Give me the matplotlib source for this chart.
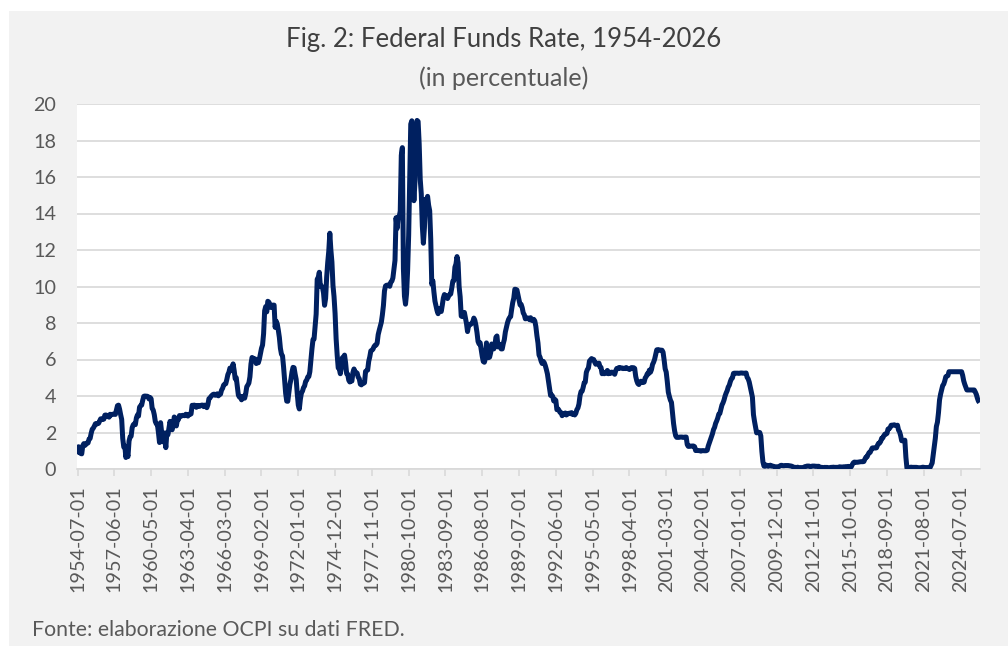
import matplotlib
matplotlib.use("Agg")
import matplotlib.pyplot as plt
import matplotlib.patches as mpatches
import numpy as np
import pandas as pd

# Monthly effective Federal Funds Rate (%), 1954-07 .. 2026-01
rate_1950s = [0.80, 1.22, 1.07, 0.85, 0.83, 1.28,
              1.39, 1.29, 1.35, 1.43, 1.43, 1.64, 1.68, 1.96, 2.18, 2.24, 2.35, 2.48,
              2.45, 2.50, 2.50, 2.62, 2.75, 2.71, 2.75, 2.73, 2.95, 2.96, 2.88, 2.94,
              2.84, 3.00, 2.96, 3.00, 3.00, 3.00, 2.99, 3.24, 3.47, 3.50, 3.28, 2.98,
              2.72, 1.67, 1.20, 1.26, 0.63, 0.93, 0.68, 1.53, 1.76, 1.80, 2.27, 2.42,
              2.48, 2.43, 2.80, 2.96, 2.90, 3.39, 3.47, 3.50, 3.76, 3.98, 4.00, 3.99]
rate_1960s = [3.99, 3.97, 3.84, 3.92, 3.85, 3.32, 3.23, 2.98, 2.60, 2.47, 2.44, 1.98,
              1.45, 2.54, 2.02, 1.49, 1.98, 1.73, 1.17, 2.00, 1.88, 2.26, 2.61, 2.33,
              2.15, 2.37, 2.85, 2.78, 2.36, 2.68, 2.71, 2.93, 2.90, 2.90, 2.94, 2.93,
              2.92, 3.00, 2.98, 2.90, 3.00, 2.99, 3.02, 3.49, 3.48, 3.50, 3.48, 3.38,
              3.48, 3.48, 3.43, 3.47, 3.50, 3.50, 3.42, 3.50, 3.45, 3.36, 3.52, 3.85,
              3.90, 3.98, 4.04, 4.09, 4.10, 4.04, 4.09, 4.12, 4.01, 4.08, 4.10, 4.32,
              4.42, 4.60, 4.65, 4.67, 4.90, 5.17, 5.30, 5.53, 5.40, 5.53, 5.76, 5.40,
              4.94, 5.00, 4.53, 4.05, 3.94, 3.98, 3.79, 3.90, 3.99, 3.88, 4.13, 4.51,
              4.60, 4.71, 5.05, 5.76, 6.11, 6.07, 6.02, 6.03, 5.78, 5.91, 5.82, 6.02,
              6.30, 6.61, 6.79, 7.41, 8.67, 8.90, 8.61, 9.19, 9.15, 9.00, 8.85, 8.97]
rate_1970s = [8.98, 8.98, 7.76, 8.10, 7.95, 7.61, 7.21, 6.61, 6.29, 6.20, 5.60, 4.90,
              4.14, 3.72, 3.71, 4.16, 4.63, 4.91, 5.31, 5.57, 5.55, 5.20, 4.91, 4.14,
              3.50, 3.29, 3.83, 4.17, 4.27, 4.46, 4.55, 4.80, 4.87, 5.04, 5.06, 5.33,
              5.94, 6.58, 7.09, 7.12, 7.84, 8.49, 10.40, 10.50, 10.78, 10.01, 10.03, 9.95,
              9.65, 8.97, 9.35, 10.51, 11.31, 11.93, 12.92, 12.01, 11.34, 10.06, 9.45, 8.53,
              7.13, 6.24, 5.54, 5.49, 5.22, 5.55, 6.10, 6.14, 6.24, 5.82, 5.22, 5.20,
              4.87, 4.77, 4.84, 4.82, 5.29, 5.48, 5.31, 5.29, 5.25, 5.03, 4.95, 4.65,
              4.61, 4.68, 4.69, 4.73, 5.35, 5.39, 5.42, 5.90, 6.14, 6.47, 6.51, 6.56,
              6.70, 6.78, 6.79, 6.89, 7.36, 7.60, 7.81, 8.04, 8.45, 8.96, 9.76, 10.03,
              10.07, 10.06, 10.09, 10.01, 10.24, 10.29, 10.47, 10.94, 11.43, 13.77, 13.18, 13.78]
rate_1980s = [13.82, 14.13, 17.19, 17.61, 10.98, 9.47, 9.03, 9.61, 10.87, 12.81, 15.85, 18.90,
              19.08, 15.93, 14.70, 15.72, 18.52, 19.10, 19.04, 17.82, 15.87, 15.08, 13.31, 12.37,
              13.22, 14.78, 14.68, 14.94, 14.45, 14.15, 12.59, 10.12, 10.31, 9.71, 9.20, 8.95,
              8.68, 8.51, 8.77, 8.80, 8.63, 8.98, 9.37, 9.56, 9.45, 9.48, 9.34, 9.47,
              9.56, 9.59, 9.91, 10.29, 10.32, 11.06, 11.23, 11.64, 11.30, 9.99, 9.43, 8.38,
              8.35, 8.50, 8.58, 8.27, 7.97, 7.53, 7.88, 7.90, 7.92, 7.99, 8.05, 8.27,
              8.14, 7.86, 7.48, 6.99, 6.85, 6.92, 6.56, 6.17, 5.89, 5.85, 6.04, 6.91,
              6.43, 6.10, 6.13, 6.37, 6.85, 6.73, 6.58, 6.73, 7.22, 7.29, 6.69, 6.77,
              6.83, 6.58, 6.58, 6.87, 7.09, 7.51, 7.75, 8.01, 8.19, 8.30, 8.35, 8.76,
              9.12, 9.36, 9.85, 9.84, 9.81, 9.53, 9.24, 8.99, 9.02, 8.84, 8.55, 8.45]
rate_1990s = [8.23, 8.24, 8.28, 8.26, 8.18, 8.29, 8.15, 8.13, 8.20, 8.11, 7.81, 7.31,
              6.91, 6.25, 6.12, 5.91, 5.78, 5.90, 5.82, 5.66, 5.45, 5.21, 4.81, 4.43,
              4.03, 4.06, 3.98, 3.73, 3.82, 3.76, 3.25, 3.30, 3.22, 3.10, 3.09, 2.92,
              3.02, 3.03, 3.07, 2.96, 3.00, 3.04, 3.06, 3.03, 3.09, 2.99, 3.02, 2.96,
              3.05, 3.25, 3.34, 3.56, 4.01, 4.25, 4.26, 4.47, 4.73, 4.76, 5.29, 5.45,
              5.53, 5.92, 5.98, 6.05, 6.01, 6.00, 5.85, 5.74, 5.80, 5.76, 5.80, 5.60,
              5.56, 5.22, 5.31, 5.22, 5.24, 5.27, 5.40, 5.22, 5.30, 5.24, 5.31, 5.29,
              5.25, 5.19, 5.39, 5.51, 5.50, 5.56, 5.52, 5.54, 5.54, 5.50, 5.52, 5.50,
              5.56, 5.51, 5.49, 5.45, 5.49, 5.56, 5.54, 5.55, 5.51, 5.07, 4.83, 4.68,
              4.63, 4.76, 4.81, 4.74, 4.74, 4.76, 4.99, 5.07, 5.22, 5.20, 5.42, 5.30]
rate_2000s = [5.45, 5.73, 5.85, 6.02, 6.27, 6.53, 6.54, 6.50, 6.52, 6.51, 6.51, 6.40,
              5.98, 5.49, 5.31, 4.80, 4.21, 3.97, 3.77, 3.65, 3.07, 2.49, 2.09, 1.82,
              1.73, 1.74, 1.73, 1.75, 1.75, 1.75, 1.73, 1.74, 1.75, 1.75, 1.34, 1.24,
              1.24, 1.26, 1.25, 1.26, 1.26, 1.22, 1.01, 1.03, 1.01, 1.01, 1.00, 0.98,
              1.00, 1.01, 1.00, 1.00, 1.00, 1.03, 1.26, 1.43, 1.61, 1.76, 1.93, 2.16,
              2.28, 2.50, 2.63, 2.79, 3.00, 3.04, 3.26, 3.50, 3.62, 3.78, 4.00, 4.16,
              4.29, 4.49, 4.59, 4.79, 4.94, 4.99, 5.24, 5.25, 5.25, 5.25, 5.25, 5.24,
              5.25, 5.26, 5.26, 5.25, 5.25, 5.25, 5.26, 5.02, 4.94, 4.76, 4.49, 4.24,
              3.94, 2.98, 2.61, 2.28, 1.98, 2.00, 2.01, 2.00, 1.81, 0.97, 0.39, 0.16,
              0.15, 0.22, 0.18, 0.15, 0.18, 0.21, 0.16, 0.16, 0.15, 0.12, 0.12, 0.12]
rate_2010s = [0.11, 0.13, 0.16, 0.20, 0.20, 0.18, 0.18, 0.19, 0.19, 0.19, 0.19, 0.18,
              0.17, 0.16, 0.14, 0.10, 0.09, 0.09, 0.07, 0.10, 0.08, 0.07, 0.08, 0.07,
              0.08, 0.10, 0.13, 0.14, 0.16, 0.16, 0.16, 0.13, 0.14, 0.16, 0.16, 0.16,
              0.14, 0.15, 0.14, 0.15, 0.11, 0.09, 0.09, 0.08, 0.08, 0.09, 0.08, 0.09,
              0.07, 0.07, 0.08, 0.09, 0.09, 0.10, 0.09, 0.09, 0.09, 0.09, 0.09, 0.12,
              0.11, 0.11, 0.11, 0.12, 0.12, 0.13, 0.13, 0.14, 0.14, 0.12, 0.12, 0.24,
              0.34, 0.38, 0.36, 0.37, 0.37, 0.38, 0.39, 0.40, 0.40, 0.40, 0.41, 0.54,
              0.65, 0.66, 0.79, 0.90, 0.91, 1.04, 1.15, 1.16, 1.15, 1.15, 1.16, 1.30,
              1.41, 1.42, 1.51, 1.69, 1.70, 1.82, 1.91, 1.91, 1.95, 2.19, 2.20, 2.27,
              2.40, 2.40, 2.41, 2.42, 2.39, 2.38, 2.40, 2.13, 2.04, 1.83, 1.55, 1.55]
rate_2020s = [1.55, 1.58, 0.65, 0.05, 0.05, 0.08, 0.09, 0.10, 0.09, 0.09, 0.09, 0.09,
              0.09, 0.08, 0.07, 0.07, 0.06, 0.08, 0.10, 0.09, 0.08, 0.08, 0.08, 0.08,
              0.08, 0.08, 0.20, 0.33, 0.77, 1.21, 1.68, 2.33, 2.56, 3.08, 3.78, 4.10,
              4.33, 4.57, 4.65, 4.83, 5.06, 5.08, 5.12, 5.33, 5.33, 5.33, 5.33, 5.33,
              5.33, 5.33, 5.33, 5.33, 5.33, 5.33, 5.33, 5.33, 5.13, 4.83, 4.64, 4.48,
              4.33, 4.33, 4.33, 4.33, 4.33, 4.33, 4.33, 4.33, 4.22, 4.09, 3.88, 3.72,
              3.64]

tick_labels = ["1954-07-01", "1957-06-01", "1960-05-01", "1963-04-01", "1966-03-01",
               "1969-02-01", "1972-01-01", "1974-12-01", "1977-11-01", "1980-10-01",
               "1983-09-01", "1986-08-01", "1989-07-01", "1992-06-01", "1995-05-01",
               "1998-04-01", "2001-03-01", "2004-02-01", "2007-01-01", "2009-12-01",
               "2012-11-01", "2015-10-01", "2018-09-01", "2021-08-01", "2024-07-01"]

values = (rate_1950s + rate_1960s + rate_1970s + rate_1980s + rate_1990s
          + rate_2000s + rate_2010s + rate_2020s)
dates = pd.date_range("1954-07-01", periods=len(values), freq="MS").strftime("%Y-%m-%d").tolist()
x = np.arange(len(values))
tick_pos = [dates.index(t) for t in tick_labels]

FONT = "Lato"
GRAY = "#595959"
BG = "#F2F2F2"

fig = plt.figure(figsize=(10.08, 6.46), dpi=100, facecolor="white")
fig.patches.append(mpatches.Rectangle((9 / 1008, 0), 1 - 9 / 1008, 1 - 11 / 646,
                                      transform=fig.transFigure, facecolor=BG,
                                      edgecolor="none", zorder=-10))

ax = fig.add_axes([77 / 1008, 1 - 469 / 646, (980 - 77) / 1008, (469 - 104) / 646])
ax.set_facecolor("white")
ax.plot(x, values, color="#002060", lw=3.6, solid_joinstyle="round",
        solid_capstyle="butt", zorder=3)

ax.set_xlim(-0.5, len(values) - 0.5)
ax.set_ylim(0, 20)
ax.set_yticks(np.arange(0, 21, 2))
ax.yaxis.grid(True, color="#D9D9D9", lw=1.25)
ax.set_axisbelow(True)
ax.set_xticks(tick_pos)
ax.set_xticklabels(tick_labels, rotation=90, fontsize=14.2, color=GRAY, family=FONT)
for lab in ax.get_yticklabels():
    lab.set_fontsize(14.2)
    lab.set_color(GRAY)
    lab.set_family(FONT)
ax.tick_params(axis="y", length=0, pad=15)
ax.tick_params(axis="x", length=5, width=1.2, color="#D9D9D9", pad=7)
for s in ["top", "right", "left"]:
    ax.spines[s].set_visible(False)
ax.spines["bottom"].set_color("#D9D9D9")
ax.spines["bottom"].set_linewidth(1.25)

fig.text(0.5, 1 - 39 / 646, "Fig. 2: Federal Funds Rate, 1954-2026", ha="center",
         va="center", fontsize=18.5, color="#404040", family=FONT)
fig.text(0.5, 1 - 78 / 646, "(in percentuale)", ha="center", va="center",
         fontsize=18, color=GRAY, family=FONT)
fig.text(32 / 1008, 1 - 630 / 646, "Fonte: elaborazione OCPI su dati FRED.", ha="left",
         va="center", fontsize=15.3, color=GRAY, family=FONT)

fig.savefig("out.png", dpi=100, facecolor=fig.get_facecolor())
